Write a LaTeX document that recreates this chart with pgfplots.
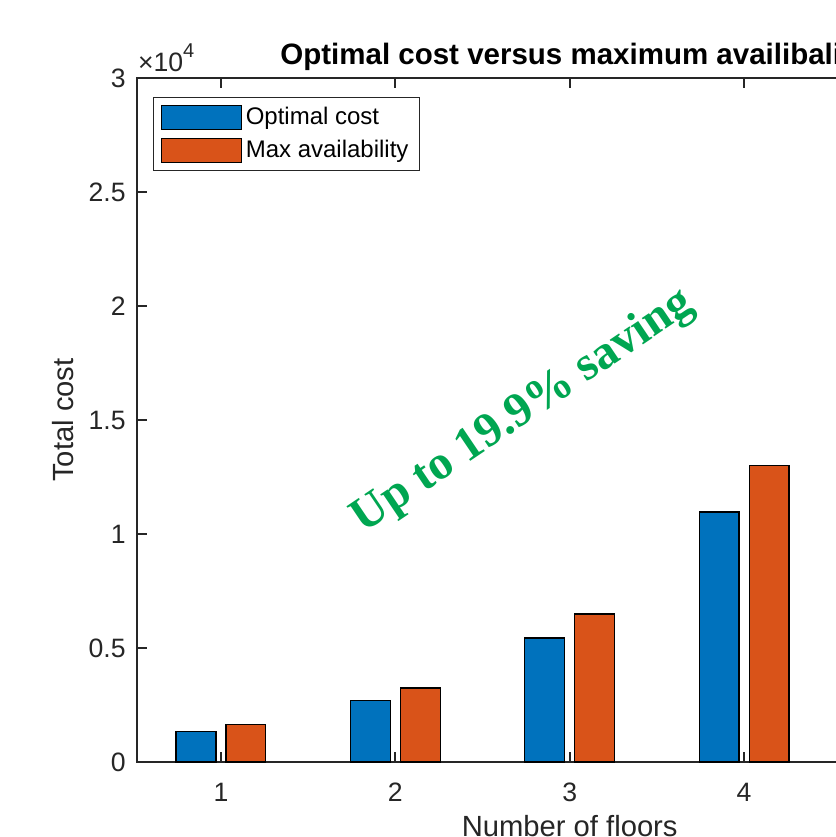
\documentclass[border=0pt]{standalone}
\usepackage{pgfplots}
\pgfplotsset{compat=1.18}
\usepackage{fontspec}
\setmainfont{Liberation Sans}
\newfontfamily\tnr{Liberation Serif}
\definecolor{mblue}{rgb}{0,0.447,0.741}
\definecolor{morange}{rgb}{0.851,0.325,0.098}
\definecolor{mgreen}{RGB}{0,166,81}
\definecolor{axgray}{rgb}{0.15,0.15,0.15}
\begin{document}
\begin{tikzpicture}
\useasboundingbox (0pt,0pt) rectangle (418pt,418.5pt);
\clip (0pt,0pt) rectangle (418pt,418.5pt);
\begin{axis}[
  name=ax,
  scale only axis,
  width=433pt, height=342pt,
  at={(68.35pt,37.5pt)}, anchor=south west,
  xmin=0.517, xmax=5.483, ymin=0, ymax=30000,
  xtick={1,2,3,4,5},
  ytick={0,5000,10000,15000,20000,25000,30000},
  yticklabels={0,0.5,1,1.5,2,2.5,3},
  scaled y ticks=false,
  tick align=inside,
  major tick length=5pt,
  axis line style={axgray, line width=0.9pt},
  every tick/.style={axgray, line width=0.9pt},
  tick label style={font=\fontsize{13.3}{15}\selectfont, text=axgray},
  xticklabel style={yshift=-7pt},
  yticklabel style={xshift=-2pt},
  /pgf/number format/assume math mode=true,
  xlabel={Number of floors},
  ylabel={Total cost},
  label style={font=\fontsize{14.6}{17}\selectfont, text=axgray},
  xlabel style={at={(axis description cs:0.5,-0.0676)}, anchor=north},
  ylabel style={at={(axis description cs:-0.0645,0.5)}, anchor=south},
  legend style={at={(axis description cs:0,1)}, anchor=north west, xshift=8pt, yshift=-9.5pt,
    draw=axgray, line width=0.5pt, font=\fontsize{12}{14}\selectfont,
    inner xsep=3.7pt, inner ysep=2.8pt, row sep=2.5pt},
  legend cell align=left,
]
\addplot[ybar, bar width=0.229, bar shift=-0.1433, fill=mblue, draw=black, line width=0.6pt,
  legend image code/.code={\draw[fill=mblue, draw=black, line width=0.6pt] (0pt,-6pt) rectangle (40pt,6pt);}]
  coordinates {(1,1342) (2,2702) (3,5439) (4,10965)};
\addlegendentry{Optimal cost}
\addplot[ybar, bar width=0.229, bar shift=0.1433, fill=morange, draw=black, line width=0.6pt,
  legend image code/.code={\draw[fill=morange, draw=black, line width=0.6pt] (0pt,-6pt) rectangle (40pt,6pt);}]
  coordinates {(1,1636) (2,3246) (3,6491) (4,12996)};
\addlegendentry{Max availability}
\end{axis}
\node[rotate=34, text=mgreen, font=\tnr\bfseries\fontsize{24}{28}\selectfont]
  at (261.5pt,212.5pt) {Up to 19.9\% saving};
\node[anchor=base west, inner sep=0, text=axgray, font=\fontsize{13.3}{15}\selectfont]
  at ([xshift=0.5pt, yshift=3pt]ax.north west) {×10\raisebox{0.55em}{\fontsize{10}{12}\selectfont 4}};
\node[anchor=base west, inner sep=0, font=\bfseries\fontsize{14.75}{17}\selectfont] at (140pt,386pt)
  {Optimal cost versus maximum availibality};
\end{tikzpicture}
\end{document}
